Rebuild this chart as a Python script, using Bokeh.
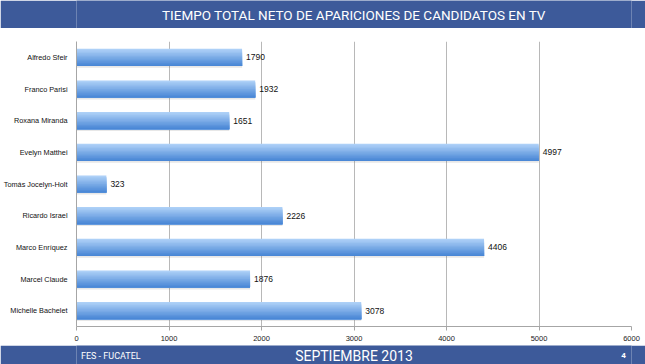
from bokeh.plotting import figure
from bokeh.models import Range1d, FactorRange, Label, ColumnDataSource, FixedTicker
from bokeh.transform import dodge
from bokeh.layouts import column
from bokeh.core.properties import value
from bokeh.embed import file_html
from bokeh.resources import INLINE

# ---- data ----
names = ["Alfredo Sfeir", "Franco Parisi", "Roxana Miranda", "Evelyn Matthei",
         "Tomás Jocelyn-Holt", "Ricardo Israel", "Marco Enríquez", "Marcel Claude",
         "Michelle Bachelet"]
values = [1790, 1932, 1651, 4997, 323, 2226, 4406, 1876, 3078]
x_ticks = [0, 1000, 2000, 3000, 4000, 5000, 6000]

title_text = "TIEMPO TOTAL NETO DE APARICIONES DE CANDIDATOS EN TV"
footer_left = "FES - FUCATEL"
footer_center = "SEPTIEMBRE 2013"
footer_right = "4"

BLUE = "#3d5a9a"
W = 645
LABEL_FONT = "Liberation Sans"
TITLE_FONT = "Roboto"

src = ColumnDataSource(dict(name=names, value=values, label=[str(v) for v in values]))

# ---- header ----
head = figure(width=W, height=28, x_range=Range1d(0, 1), y_range=Range1d(0, 1),
              toolbar_location=None, output_backend="svg", min_border=0,
              background_fill_color=BLUE, border_fill_color=BLUE, outline_line_color=None)
head.axis.visible = False
head.grid.grid_line_color = None
head.add_layout(Label(x=0.5, y=0.5, text=title_text, text_align="center", text_baseline="middle",
                      text_color="white", text_font=TITLE_FONT, text_font_size="13.5px"))

# ---- main chart ----
p = figure(width=W, height=317, y_range=FactorRange(factors=names[::-1]),
           x_range=Range1d(0, 6000), toolbar_location=None, output_backend="svg",
           min_border_left=75, min_border_right=14, min_border_top=13, min_border_bottom=19,
           outline_line_color=None)

H = 0.54
n = 12
top_c = (0xad, 0xd0, 0xf7)
bot_c = (0x4a, 0x87, 0xd6)
# soft shadow under the bars
p.hbar(y=dodge("name", -0.06, range=p.y_range), right="value", height=H, left=0,
       source=src, fill_color="#6a6a6a", fill_alpha=0.16, line_color=None)
# vertical gradient built from overlapping layers
for i in range(n):
    t = i / (n - 1)
    c = tuple(int(round(top_c[k] + (bot_c[k] - top_c[k]) * t)) for k in range(3))
    col = "#%02x%02x%02x" % c
    h = H - i * H / n
    off = -H / 2 + h / 2
    p.hbar(y=dodge("name", off, range=p.y_range), right="value", height=h, left=0,
           source=src, fill_color=col, line_color=None)

p.text(x="value", y="name", text="label", source=src, x_offset=4,
       text_baseline="middle", text_align="left", text_font_size="8.5px",
       text_color="#111111", text_font=value("Liberation Sans"))

p.xaxis.ticker = FixedTicker(ticks=x_ticks)
p.xaxis.minor_tick_line_color = None
p.xaxis.axis_line_color = "#a6a6a6"
p.xaxis.major_tick_line_color = "#a6a6a6"
p.xaxis.major_tick_out = 4
p.xaxis.major_tick_in = 0
p.xaxis.major_label_standoff = 5
p.xaxis.major_label_text_font_size = "7.5px"
p.xaxis.major_label_text_font = "Liberation Sans"
p.xaxis.major_label_text_color = "#222222"

p.yaxis.axis_line_color = "#a6a6a6"
p.yaxis.major_tick_line_color = None
p.yaxis.minor_tick_line_color = None
p.yaxis.major_label_standoff = 3
p.yaxis.major_label_text_font_size = "7.3px"
p.yaxis.major_label_text_font = LABEL_FONT
p.yaxis.major_label_text_color = "#111111"

p.ygrid.grid_line_color = None
p.xgrid.ticker = FixedTicker(ticks=x_ticks)
p.xgrid.grid_line_color = "#b8b8b8"

# ---- footer ----
foot = figure(width=W, height=19, x_range=Range1d(0, 1), y_range=Range1d(0, 1),
              toolbar_location=None, output_backend="svg", min_border=0,
              background_fill_color=BLUE, border_fill_color=BLUE, outline_line_color=None)
foot.axis.visible = False
foot.grid.grid_line_color = None
foot.add_layout(Label(x=0.008, y=0.45, text=footer_left, text_align="left", text_baseline="middle",
                      text_color="white", text_font=TITLE_FONT, text_font_size="9px"))
foot.add_layout(Label(x=0.5, y=0.45, text=footer_center, text_align="center", text_baseline="middle",
                      text_color="white", text_font=TITLE_FONT, text_font_size="14px"))
foot.add_layout(Label(x=0.99, y=0.45, text=footer_right, text_align="right", text_baseline="middle",
                      text_color="white", text_font=TITLE_FONT, text_font_size="8px",
                      text_font_style="bold"))

layout = column(head, p, foot, spacing=0)
open("out.html", "w").write(file_html(layout, INLINE))
